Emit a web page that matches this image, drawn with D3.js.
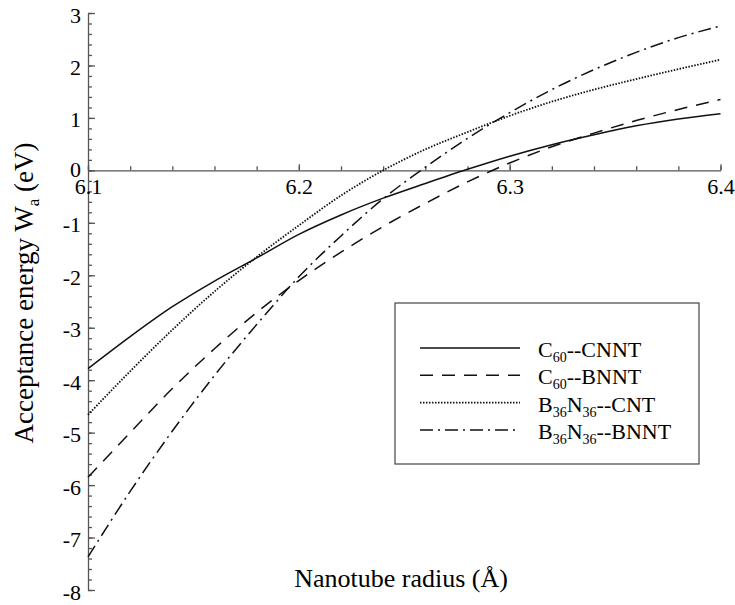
<!DOCTYPE html>
<html>
<head>
<meta charset="utf-8">
<script src="https://cdn.jsdelivr.net/npm/d3@7"></script>
<style>
  body { margin: 0; background: #fff; }
  svg text { font-family: "Liberation Serif", "Times New Roman", serif; fill: #000; }
  .axis path, .axis line { stroke: #555; stroke-width: 1.3; }
  .axis text { font-size: 22px; }
</style>
</head>
<body>
<svg width="735" height="605"></svg>
<script>
// nanotube radius (Angstrom)
var radius = [6.10, 6.12, 6.14, 6.16, 6.18, 6.20, 6.22, 6.24, 6.26, 6.28, 6.30, 6.32, 6.34, 6.36, 6.38, 6.40];

// acceptance energy Wa (eV)
var c60Cnnt   = [-3.78, -3.17, -2.60, -2.11, -1.67, -1.22, -0.85, -0.53, -0.25, 0.02, 0.27, 0.49, 0.68, 0.85, 0.98, 1.08];
var c60Bnnt   = [-5.85, -5.00, -4.16, -3.40, -2.71, -2.10, -1.56, -1.07, -0.63, -0.22, 0.14, 0.45, 0.71, 0.95, 1.16, 1.35];
var bnCnt     = [-4.66, -3.83, -3.04, -2.31, -1.65, -1.05, -0.48, 0.00, 0.40, 0.73, 1.04, 1.31, 1.54, 1.74, 1.93, 2.11];
var bnBnnt    = [-7.37, -6.12, -4.97, -3.91, -2.94, -2.03, -1.25, -0.54, 0.06, 0.61, 1.10, 1.54, 1.92, 2.25, 2.53, 2.75];

var xTicks = [6.1, 6.2, 6.3, 6.4];
var yTicks = [-8, -7, -6, -5, -4, -3, -2, -1, 0, 1, 2, 3];

// legend: main text, subscript pieces
var series = [
  { parts: [["C", 0], ["60", 1], ["--CNNT", 0]], values: c60Cnnt, dash: null, w: 1.5 },
  { parts: [["C", 0], ["60", 1], ["--BNNT", 0]], values: c60Bnnt, dash: "13,9", w: 1.5 },
  { parts: [["B", 0], ["36", 1], ["N", 0], ["36", 1], ["--CNT", 0]], values: bnCnt, dash: "1.5,1.5", w: 1.8 },
  { parts: [["B", 0], ["36", 1], ["N", 0], ["36", 1], ["--BNNT", 0]], values: bnBnnt, dash: "13,5,2,5", w: 1.5 }
];

var svg = d3.select("svg");

var x = d3.scaleLinear().domain([6.1, 6.4]).range([88, 720.5]);
var y = d3.scaleLinear().domain([-8, 3]).range([590, 13]);

// y as: streepjes naar rechts, labels links
var minorY = d3.range(-8, 3.001, 0.2);
svg.append("g")
    .attr("class", "axis")
    .attr("transform", "translate(" + x(6.1) + ",0)")
    .call(d3.axisRight(y).tickValues(minorY).tickSize(4).tickFormat(""))
    .select(".domain").remove();

var gy = svg.append("g")
    .attr("class", "axis")
    .attr("transform", "translate(" + x(6.1) + ",0)")
    .call(d3.axisRight(y).tickValues(yTicks).tickSize(7).tickSizeOuter(0).tickFormat(d3.format("d")))
    .attr("font-family", null)
    .attr("font-size", null);
gy.selectAll("text")
    .attr("x", -7)
    .attr("y", function(d) { return d === 0 ? -1 : 2; })
    .attr("text-anchor", "end")
    .text(function(d) { return d < 0 ? "-" + Math.abs(d) : d; });

// x as op y = 0, streepjes omhoog, labels onder
var minorX = d3.range(6.1, 6.4001, 0.02);
svg.append("g")
    .attr("class", "axis")
    .attr("transform", "translate(0," + y(0) + ")")
    .call(d3.axisTop(x).tickValues(minorX).tickSize(4).tickFormat(""))
    .select(".domain").remove();

var gx = svg.append("g")
    .attr("class", "axis")
    .attr("transform", "translate(0," + y(0) + ")")
    .call(d3.axisTop(x).tickValues(xTicks).tickSize(6).tickSizeOuter(0).tickFormat(d3.format(".1f")))
    .attr("font-family", null)
    .attr("font-size", null);
gx.selectAll("text")
    .attr("y", 8)
    .attr("dy", "0.71em");

// lijnen
var line = d3.line()
    .x(function(d, i) { return x(radius[i]); })
    .y(function(d) { return y(d); })
    .curve(d3.curveMonotoneX);

series.forEach(function(s) {
  svg.append("path")
      .datum(s.values)
      .attr("d", line)
      .attr("fill", "none")
      .attr("stroke", "#111")
      .attr("stroke-width", s.w)
      .attr("stroke-dasharray", s.dash);
});

// as titels
svg.append("text")
    .attr("x", 401)
    .attr("y", 587)
    .attr("text-anchor", "middle")
    .style("font-size", "26px")
    .text("Nanotube radius (\u00C5)");

var yTitle = svg.append("text")
    .attr("transform", "translate(33,293) rotate(-90)")
    .attr("text-anchor", "middle")
    .style("font-size", "27px");
yTitle.append("tspan").text("Acceptance energy W");
yTitle.append("tspan").attr("dy", 6).style("font-size", "17px").text("a");
yTitle.append("tspan").attr("dy", -6).text(" (eV)");

// legenda
var legend = svg.append("g");
legend.append("rect")
    .attr("x", 395).attr("y", 303)
    .attr("width", 304).attr("height", 161)
    .attr("fill", "none")
    .attr("stroke", "#444")
    .attr("stroke-width", 1.2);

series.forEach(function(s, i) {
  var ly = 348 + i * 27.3;
  legend.append("line")
      .attr("x1", 420).attr("x2", 520)
      .attr("y1", ly).attr("y2", ly)
      .attr("stroke", "#111")
      .attr("stroke-width", s.w)
      .attr("stroke-dasharray", s.dash);
  var t = legend.append("text")
      .attr("x", 538)
      .attr("y", ly + 9)
      .style("font-size", "22px");
  var shift = 0;
  s.parts.forEach(function(p) {
    var dy = p[1] ? 5 - shift : -shift;
    shift = p[1] ? 5 : 0;
    t.append("tspan")
        .attr("dy", dy)
        .style("font-size", p[1] ? "14px" : "22px")
        .text(p[0]);
  });
});
</script>
</body>
</html>
